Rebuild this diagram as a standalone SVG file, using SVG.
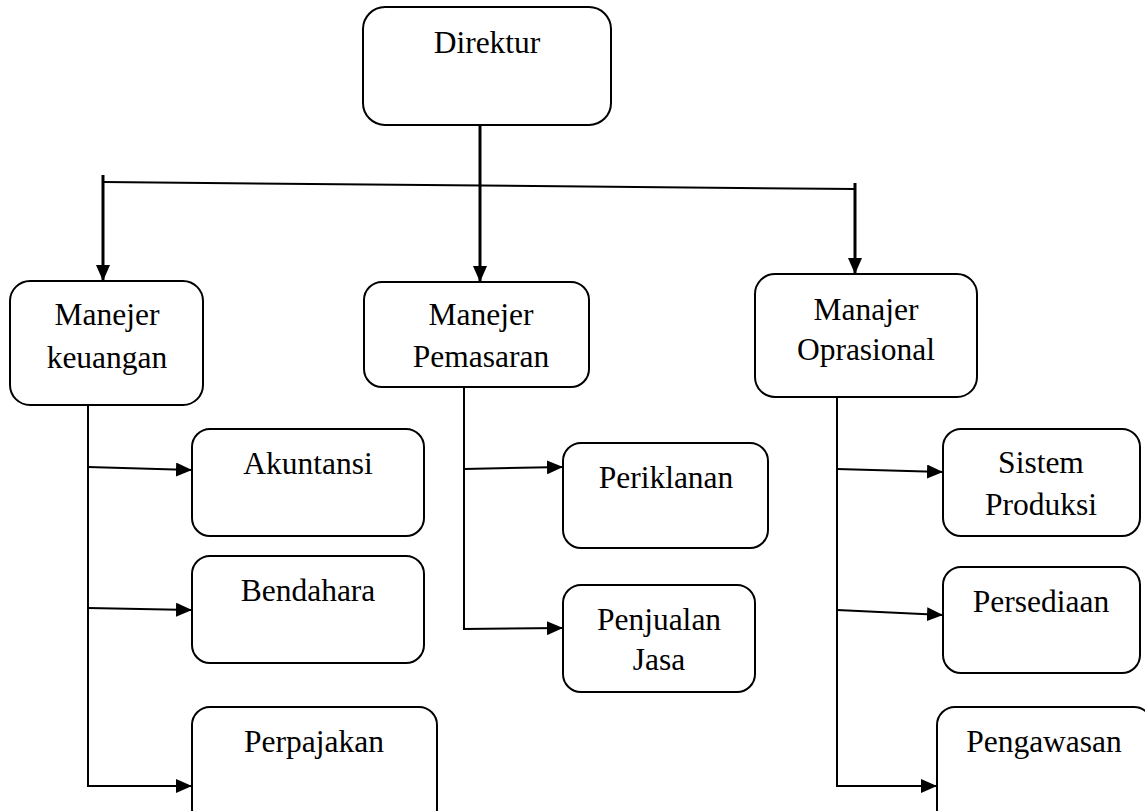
<svg xmlns="http://www.w3.org/2000/svg" width="1145" height="811" viewBox="0 0 1145 811">
<style>
.box{fill:#fff;stroke:#000;stroke-width:2}
.lbl{font-family:"Liberation Serif","Times New Roman",serif;font-size:31.5px;fill:#000;text-anchor:middle}
.ln{fill:none;stroke:#000;stroke-width:2}
.ar{fill:none;stroke:#000;stroke-width:3}
</style>
<defs>
<marker id="ah" markerUnits="userSpaceOnUse" markerWidth="16" markerHeight="14" refX="16" refY="7" orient="auto">
<path d="M0,0 L16,7 L0,14 z" fill="#000"/>
</marker>
</defs>
<rect width="1145" height="811" fill="#fff"/>
<g id="connectors">
<line class="ln" x1="104" y1="182" x2="855" y2="189"/>
<line class="ar" x1="480" y1="125" x2="480" y2="282" marker-end="url(#ah)"/>
<line class="ar" x1="103" y1="175" x2="103" y2="281" marker-end="url(#ah)"/>
<line class="ar" x1="855" y1="183" x2="855" y2="274" marker-end="url(#ah)"/>
<line class="ln" x1="88" y1="405" x2="88" y2="786"/>
<line class="ln" x1="88" y1="467" x2="192" y2="470" marker-end="url(#ah)"/>
<line class="ln" x1="88" y1="608" x2="192" y2="610" marker-end="url(#ah)"/>
<line class="ln" x1="87" y1="786" x2="192" y2="786" marker-end="url(#ah)"/>
<line class="ln" x1="464" y1="387" x2="464" y2="629"/>
<line class="ln" x1="464" y1="469" x2="563" y2="467" marker-end="url(#ah)"/>
<line class="ln" x1="463" y1="629" x2="563" y2="628" marker-end="url(#ah)"/>
<line class="ln" x1="837" y1="397" x2="837" y2="786"/>
<line class="ln" x1="837" y1="469" x2="943" y2="472" marker-end="url(#ah)"/>
<line class="ln" x1="837" y1="610" x2="943" y2="615" marker-end="url(#ah)"/>
<line class="ln" x1="836" y1="786" x2="937" y2="786" marker-end="url(#ah)"/>
</g>
<g id="direktur">
<rect class="box" x="363" y="7" width="248" height="118" rx="22"/>
<text class="lbl" x="487" y="53">Direktur</text>
</g>
<g id="manejer-keuangan">
<rect class="box" x="10" y="281" width="193" height="124" rx="20"/>
<text class="lbl" x="107" y="325">Manejer</text>
<text class="lbl" x="107" y="368">keuangan</text>
</g>
<g id="manejer-pemasaran">
<rect class="box" x="364" y="282" width="225" height="105" rx="18"/>
<text class="lbl" x="481" y="325">Manejer</text>
<text class="lbl" x="481" y="367">Pemasaran</text>
</g>
<g id="manajer-oprasional">
<rect class="box" x="755" y="274" width="222" height="123" rx="20"/>
<text class="lbl" x="866" y="320">Manajer</text>
<text class="lbl" x="866" y="360">Oprasional</text>
</g>
<g id="akuntansi">
<rect class="box" x="192" y="429" width="232" height="107" rx="18"/>
<text class="lbl" x="308" y="474">Akuntansi</text>
</g>
<g id="bendahara">
<rect class="box" x="192" y="556" width="232" height="107" rx="18"/>
<text class="lbl" x="308" y="601">Bendahara</text>
</g>
<g id="perpajakan">
<rect class="box" x="192" y="707" width="245" height="120" rx="18"/>
<text class="lbl" x="314" y="752">Perpajakan</text>
</g>
<g id="periklanan">
<rect class="box" x="563" y="443" width="205" height="105" rx="18"/>
<text class="lbl" x="666" y="488">Periklanan</text>
</g>
<g id="penjualan-jasa">
<rect class="box" x="563" y="585" width="192" height="107" rx="18"/>
<text class="lbl" x="659" y="630">Penjualan</text>
<text class="lbl" x="659" y="670">Jasa</text>
</g>
<g id="sistem-produksi">
<rect class="box" x="943" y="429" width="197" height="107" rx="18"/>
<text class="lbl" x="1041" y="473">Sistem</text>
<text class="lbl" x="1041" y="515">Produksi</text>
</g>
<g id="persediaan">
<rect class="box" x="943" y="567" width="197" height="106" rx="18"/>
<text class="lbl" x="1041" y="612">Persediaan</text>
</g>
<g id="pengawasan">
<rect class="box" x="937" y="707" width="215" height="120" rx="18"/>
<text class="lbl" x="1044" y="752">Pengawasan</text>
</g>
</svg>
